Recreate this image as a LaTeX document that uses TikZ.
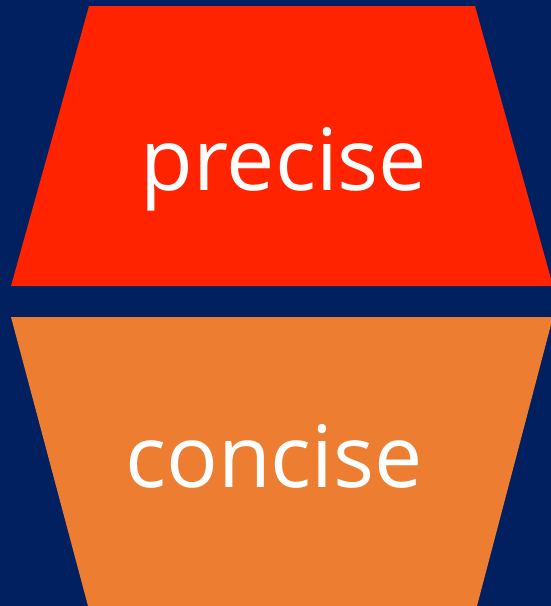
\documentclass[tikz,border=0pt]{standalone}
\usepackage{fontspec}
\setmainfont{Open Sans}
\definecolor{bgblue}{HTML}{002060}
\definecolor{topred}{HTML}{FF2300}
\definecolor{botorange}{HTML}{ED7D31}
\begin{document}
\begin{tikzpicture}[x=1pt,y=-1pt,
  lbl/.style={text=white,font=\fontsize{86}{100}\selectfont,inner sep=0pt,anchor=base}]
\fill[bgblue] (0,0) rectangle (551,606);
\useasboundingbox (0,0) rectangle (551,606);
\fill[topred] (89,6) -- (475,6) -- (553,286) -- (11,286) -- cycle;
\fill[botorange] (11,317) -- (553,317) -- (477,606) -- (88,606) -- cycle;
\node[lbl] (p) at (284,190) {precise};
\node[lbl] (c) at (274,487) {concise};
\end{tikzpicture}
\end{document}
